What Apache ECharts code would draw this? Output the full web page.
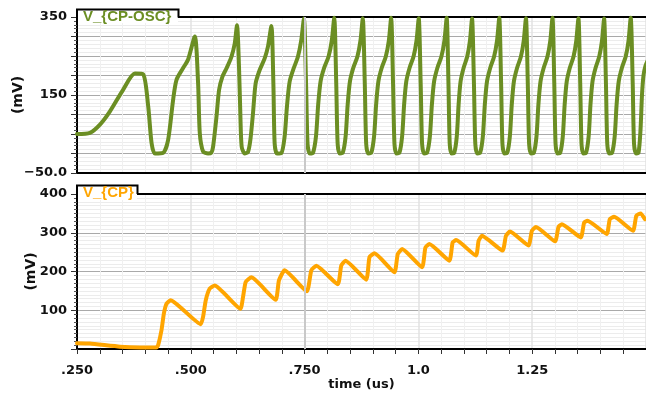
<!DOCTYPE html>
<html><head><meta charset="utf-8">
<script src="https://cdn.jsdelivr.net/npm/echarts/dist/echarts.min.js"></script>
<style>html,body{margin:0;padding:0;background:#fff}#c{width:646px;height:396px}</style>
</head><body><div id="c"></div>
<script>
// V_{CP-OSC} (mV) versus time (us)
const oscT = [
  0.2500, 0.2785, 0.3004, 0.3224, 0.3515, 0.3772, 0.3954, 0.4064, 0.4138, 0.4211, 0.4393,
  0.4502, 0.4612, 0.4686, 0.4831, 0.4941, 0.5088,
  0.5160, 0.5197, 0.5270, 0.5379, 0.5450, 0.5489, 0.5564, 0.5621, 0.5695, 0.5783, 0.5892, 0.5965, 0.6015,
  0.6059, 0.6090, 0.6118, 0.6184, 0.6257, 0.6309, 0.6366, 0.6425, 0.6513, 0.6623, 0.6695, 0.6770,
  0.6814, 0.6842, 0.6893, 0.6989, 0.7061, 0.7112, 0.7171, 0.7259, 0.7353, 0.7427, 0.7485,
  0.7532, 0.7565, 0.7612, 0.7685, 0.7751, 0.7798, 0.7851, 0.7931, 0.8025, 0.8098, 0.8151,
  0.8195, 0.8226, 0.8270, 0.8339, 0.8402, 0.8446, 0.8496, 0.8571, 0.8659, 0.8728, 0.8778,
  0.8822, 0.8853, 0.8896, 0.8965, 0.9027, 0.9071, 0.9121, 0.9195, 0.9283, 0.9351, 0.9401,
  0.9443, 0.9474, 0.9516, 0.9583, 0.9643, 0.9686, 0.9734, 0.9807, 0.9892, 0.9959, 1.0007,
  1.0050, 1.0081, 1.0124, 1.0191, 1.0253, 1.0296, 1.0345, 1.0418, 1.0504, 1.0572, 1.0621,
  1.0660, 1.0688, 1.0727, 1.0788, 1.0844, 1.0883, 1.0927, 1.0994, 1.1072, 1.1133, 1.1178,
  1.1220, 1.1250, 1.1292, 1.1357, 1.1417, 1.1459, 1.1507, 1.1579, 1.1662, 1.1728, 1.1776,
  1.1817, 1.1846, 1.1887, 1.1952, 1.2010, 1.2051, 1.2098, 1.2169, 1.2251, 1.2315, 1.2362,
  1.2403, 1.2432, 1.2473, 1.2537, 1.2595, 1.2636, 1.2683, 1.2753, 1.2834, 1.2898, 1.2945,
  1.2985, 1.3013, 1.3053, 1.3116, 1.3173, 1.3213, 1.3259, 1.3327, 1.3407, 1.3469, 1.3515,
  1.3555, 1.3583, 1.3622, 1.3684, 1.3741, 1.3780, 1.3825, 1.3893, 1.3972, 1.4034, 1.4079,
  1.4120, 1.4149, 1.4190, 1.4255, 1.4313, 1.4354, 1.4401, 1.4471, 1.4553, 1.4617, 1.4664,
  1.4708, 1.4737, 1.4781, 1.4836, 1.4879, 1.4912, 1.4945, 1.4989, 1.5044
];
const oscV = [
  50, 53, 74, 108, 164, 205, 203, 121, 27, 0, 2,
  35, 138, 189, 219, 241, 300,
  181, 53, 5, 0, 2, 17, 94, 163, 197, 218, 248, 282, 329,
  222, 94, 17, 0, 4, 35, 103, 180, 214, 244, 274, 327,
  180, 26, 0, 1, 43, 120, 184, 218, 248, 291, 346,
  180, 25, 0, 2, 45, 125, 185, 220, 248, 290, 348,
  180, 25, 0, 2, 45, 125, 185, 220, 248, 290, 347,
  180, 25, 0, 2, 45, 125, 185, 220, 248, 290, 348,
  180, 25, 0, 2, 45, 125, 185, 220, 248, 290, 347,
  180, 25, 0, 2, 45, 125, 185, 220, 248, 290, 348,
  180, 25, 0, 2, 45, 125, 185, 220, 248, 290, 346,
  180, 25, 0, 2, 45, 125, 185, 220, 248, 290, 348,
  180, 25, 0, 2, 45, 125, 185, 220, 248, 290, 347,
  180, 25, 0, 2, 45, 125, 185, 220, 248, 290, 348,
  180, 25, 0, 2, 45, 125, 185, 220, 248, 290, 347,
  180, 25, 0, 2, 45, 125, 185, 220, 248, 290, 346,
  180, 25, 0, 2, 45, 125, 185, 220, 248, 290, 348,
  180, 25, 0, 2, 60, 150, 200, 225, 240
];
// V_{CP} (mV) versus time (us)
const cpT = [
  0.2500, 0.2785, 0.3443, 0.3882, 0.4248, 0.4283, 0.4357, 0.4408, 0.4467, 0.4555,
  0.5219, 0.5270, 0.5329, 0.5417, 0.5526,
  0.6090, 0.6147, 0.6206, 0.6331,
  0.6864, 0.6936, 0.7061,
  0.7550, 0.7647, 0.7757,
  0.8230, 0.8305, 0.8399,
  0.8853, 0.8925, 0.9035,
  0.9474, 0.9546, 0.9643,
  1.0081, 1.0154, 1.0241,
  1.0680, 1.0752, 1.0827,
  1.1265, 1.1322, 1.1397,
  1.1849, 1.1923, 1.2011,
  1.2419, 1.2493, 1.2581,
  1.3004, 1.3077, 1.3151,
  1.3568, 1.3640, 1.3713,
  1.4138, 1.4204, 1.4298,
  1.4715, 1.4787, 1.4884, 1.4978
];
const cpV = [
  15, 14, 6, 4, 4, 10, 49, 91, 117, 126,
  64, 83, 126, 156, 164,
  104, 134, 173, 185,
  127, 177, 203,
  149, 203, 215,
  167, 215, 228,
  179, 237, 247,
  198, 245, 258,
  211, 262, 271,
  228, 275, 281,
  241, 279, 292,
  254, 292, 303,
  267, 305, 315,
  278, 315, 322,
  288, 326, 331,
  297, 335, 341,
  305, 344, 350, 335
];
const xTickValues = [0.25, 0.5, 0.75, 1.0, 1.25];
const xTickLabels = ['.250', '.500', '.750', '1.0', '1.25'];
const oscTickValues = [-50, 150, 350];
const oscTickLabels = ['\u221250.0', '150', '350'];
const cpTickValues = [100, 200, 300, 400];
const cpTickLabels = ['100', '200', '300', '400'];
const cursorTime = 0.75;

function pick(values, labels) {
  return function (v) {
    for (let i = 0; i < values.length; i++) {
      if (Math.abs(values[i] - v) < 1e-6) return labels[i];
    }
    return '';
  };
}

const GREEN = '#6B8E23', ORANGE = '#FFA500';
const labelFont = { fontFamily: 'DejaVu Sans', fontWeight: 'bold', fontSize: 13, color: '#111' };
const nameFont = { fontFamily: 'DejaVu Sans', fontWeight: 'bold', fontSize: 14, color: '#111' };

function xAxisBottom(gridIndex, withLabels) {
  return {
    gridIndex, type: 'value', min: 0.25, max: 1.5, interval: 0.25, position: 'bottom',
    axisLine: { show: true, onZero: false, lineStyle: { color: '#000', width: 2 } },
    axisTick: { show: withLabels, inside: false, length: 5, lineStyle: { color: '#333', width: 1 } },
    minorTick: { show: withLabels, splitNumber: 5, length: 5, lineStyle: { color: '#333', width: 1 } },
    axisLabel: { show: withLabels, margin: 15, formatter: pick(xTickValues, xTickLabels), ...labelFont },
    splitLine: { show: true, lineStyle: { color: '#e2e2e2', width: 1.5 } },
    minorSplitLine: { show: true, lineStyle: { color: '#f0f0f0', width: 1 } },
    name: withLabels ? 'time (us)' : '', nameLocation: 'middle', nameGap: 29, nameMoveOverlap: false,
    nameTextStyle: { ...nameFont, fontSize: 13 }
  };
}
function xAxisTop(gridIndex) {
  return {
    gridIndex, type: 'value', min: 0.25, max: 1.5, interval: 0.25, position: 'top',
    axisLine: { show: true, onZero: false, lineStyle: { color: '#000', width: 2 } },
    axisTick: { show: false }, axisLabel: { show: false }, splitLine: { show: false }
  };
}
function yAxis(gridIndex, min, max, interval, minorSplit, values, labels, gap) {
  return {
    gridIndex, type: 'value', min, max, interval, position: 'left',
    axisLine: { show: true, onZero: false, lineStyle: { color: '#000', width: 2 } },
    axisTick: { show: true, inside: false, length: 6, lineStyle: { color: '#333', width: 1 } },
    minorTick: { show: true, splitNumber: minorSplit, length: 3, lineStyle: { color: '#555', width: 1 } },
    axisLabel: { margin: 10, formatter: pick(values, labels), ...labelFont },
    splitLine: { show: true, lineStyle: { color: '#a9a9a9', width: 1 } },
    minorSplitLine: { show: true, lineStyle: { color: '#ececec', width: 1 } },
    name: '(mV)', nameLocation: 'middle', nameRotate: 90, nameGap: gap, nameMoveOverlap: false,
    nameTextStyle: nameFont
  };
}
function cursor(xi, yi) {
  return {
    type: 'line', xAxisIndex: xi, yAxisIndex: yi, data: [], z: 1, silent: true,
    markLine: { silent: true, symbol: 'none', animation: false, label: { show: false },
      lineStyle: { color: '#c9c9c9', width: 2, type: 'solid' }, data: [{ xAxis: cursorTime }] }
  };
}

const chart = echarts.init(document.getElementById('c'), null, { renderer: 'canvas' });
chart.setOption({
  animation: false,
  backgroundColor: '#fff',
  grid: [
    { left: 77, right: 0, top: 17, height: 156, outerBoundsMode: 'none' },
    { left: 77, right: 0, top: 194, height: 155, outerBoundsMode: 'none' }
  ],
  xAxis: [xAxisBottom(0, false), xAxisTop(0), xAxisBottom(1, true), xAxisTop(1)],
  yAxis: [
    yAxis(0, -50, 350, 50, 5, oscTickValues, oscTickLabels, 52),
    yAxis(1, 0, 400, 100, 10, cpTickValues, cpTickLabels, 39)
  ],
  series: [
    cursor(0, 0),
    cursor(2, 1),
    { name: 'V_{CP-OSC}', type: 'line', xAxisIndex: 0, yAxisIndex: 0, z: 3,
      data: oscT.map((t, i) => [t, oscV[i]]), showSymbol: false, symbol: 'none', clip: true,
      smooth: 0.25,
      lineStyle: { color: GREEN, width: 4, join: 'round', cap: 'round' } },
    { name: 'V_{CP}', type: 'line', xAxisIndex: 2, yAxisIndex: 1, z: 3,
      data: cpT.map((t, i) => [t, cpV[i]]), showSymbol: false, symbol: 'none', clip: true,
      smooth: 0.15,
      lineStyle: { color: ORANGE, width: 4, join: 'round', cap: 'round' } }
  ],
  graphic: [
    { type: 'rect', z: 100, shape: { x: 78, y: 10, width: 100, height: 13 }, style: { fill: '#fff' } },
    { type: 'polyline', z: 101, shape: { points: [[77, 24], [77, 9.5], [178.5, 9.5], [178.5, 17.5]] },
      style: { stroke: '#000', lineWidth: 2, fill: null } },
    { type: 'text', z: 102, style: { text: 'V_{CP-OSC}', x: 83, y: 17, verticalAlign: 'middle',
      font: 'bold 15px "Liberation Sans", Arial, sans-serif', fill: GREEN } },
    { type: 'rect', z: 100, shape: { x: 78, y: 186, width: 59, height: 14 }, style: { fill: '#fff' } },
    { type: 'polyline', z: 101, shape: { points: [[77, 200], [77, 185.5], [137.5, 185.5], [137.5, 194]] },
      style: { stroke: '#000', lineWidth: 2, fill: null } },
    { type: 'text', z: 102, style: { text: 'V_{CP}', x: 83, y: 192.5, verticalAlign: 'middle',
      font: 'bold 15px "Liberation Sans", Arial, sans-serif', fill: ORANGE } }
  ]
});
</script>
</body></html>
